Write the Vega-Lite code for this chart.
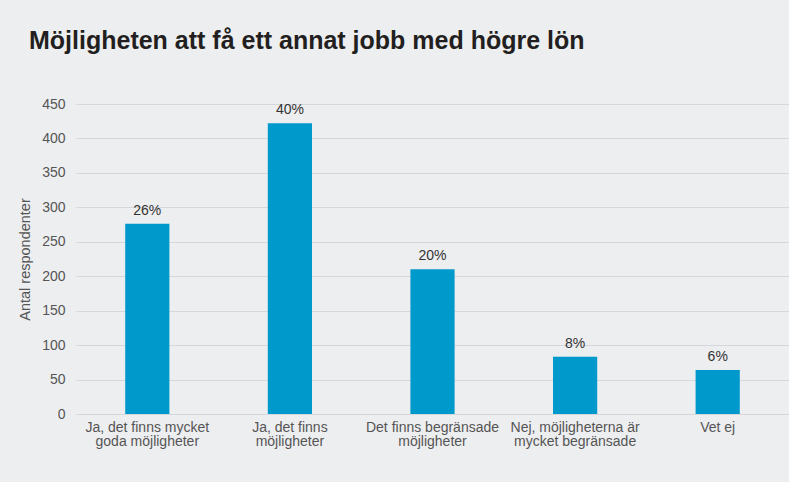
{
  "$schema": "https://vega.github.io/schema/vega-lite/v6.json",
  "autosize": {"type": "none"},
  "width": 713,
  "height": 310,
  "padding": {"left": 76, "top": 104, "right": 0, "bottom": 68},
  "background": "#edeef0",
  "title": {
    "text": "Möjligheten att få ett annat jobb med högre lön",
    "anchor": "start",
    "frame": "group",
    "dx": -47,
    "offset": 23,
    "baseline": "alphabetic",
    "font": "Liberation Sans",
    "fontSize": 25,
    "fontWeight": "bold",
    "color": "#231f20"
  },
  "data": {
    "values": [
      {"kategori": "Ja, det finns mycket|goda möjligheter", "antal": 276, "andel": "26%"},
      {"kategori": "Ja, det finns|möjligheter", "antal": 422, "andel": "40%"},
      {"kategori": "Det finns begränsade|möjligheter", "antal": 210, "andel": "20%"},
      {"kategori": "Nej, möjligheterna är|mycket begränsade", "antal": 83, "andel": "8%"},
      {"kategori": "Vet ej", "antal": 64, "andel": "6%"}
    ]
  },
  "config": {
    "view": {"stroke": null},
    "font": "Liberation Sans",
    "axis": {
      "labelFont": "Liberation Sans",
      "titleFont": "Liberation Sans",
      "labelColor": "#555555",
      "titleColor": "#555555",
      "labelFontSize": 14,
      "titleFontSize": 14.5,
      "titleFontWeight": "normal"
    }
  },
  "encoding": {
    "x": {
      "field": "kategori",
      "type": "nominal",
      "sort": null,
      "scale": {"paddingInner": 0.69, "paddingOuter": 0.345},
      "axis": {
        "title": null,
        "labelAngle": 0,
        "labelExpr": "split(datum.label, '|')",
        "labelLineHeight": 14.5,
        "labelPadding": 6,
        "labelBaseline": "top",
        "ticks": false,
        "domain": false,
        "grid": false
      }
    },
    "y": {
      "field": "antal",
      "type": "quantitative",
      "scale": {"domain": [0, 450]},
      "axis": {
        "title": "Antal respondenter",
        "values": [0, 50, 100, 150, 200, 250, 300, 350, 400, 450],
        "ticks": false,
        "domain": false,
        "labelPadding": 11,
        "titlePadding": 9,
        "gridColor": "#d6d7da",
        "gridWidth": 1.2
      }
    }
  },
  "layer": [
    {"mark": {"type": "bar", "color": "#0099cc"}},
    {
      "mark": {"type": "text", "baseline": "alphabetic", "dy": -9, "fontSize": 14, "color": "#333333", "font": "Liberation Sans"},
      "encoding": {"text": {"field": "andel"}}
    }
  ]
}
